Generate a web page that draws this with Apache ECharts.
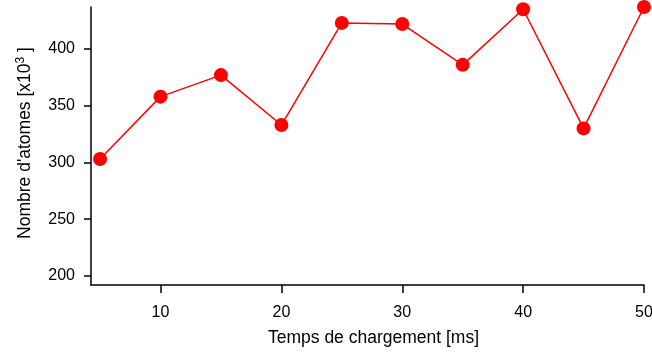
<!DOCTYPE html>
<html>
<head>
<meta charset="utf-8">
<script src="https://cdn.jsdelivr.net/npm/echarts@6/dist/echarts.min.js"></script>
<style>
  html, body { margin: 0; padding: 0; background: #fff; }
  #chart { width: 652px; height: 354px; }
</style>
</head>
<body>
<div id="chart"></div>
<script>
// temps de chargement (ms) et nombre d'atomes (x10^3)
const tempsMs = [5, 10, 15, 20, 25, 30, 35, 40, 45, 50];
const atomes = [303, 358, 377, 333, 423, 422, 386, 435, 330, 437];
const xTicks = [10, 20, 30, 40, 50];
const yTicks = [200, 250, 300, 350, 400];

const chart = echarts.init(document.getElementById('chart'), null, { renderer: 'canvas' });

const tickFont = { fontFamily: 'Liberation Sans', fontSize: 16, color: '#000' };
const titleFont = { fontFamily: 'Liberation Sans', fontSize: 17.5, color: '#000' };

chart.setOption({
  animation: false,
  grid: { left: 91, right: 8, top: 7, bottom: 69, outerBoundsMode: 'none' },
  xAxis: {
    type: 'value',
    min: 4.25,
    max: 50,
    name: 'Temps de chargement [ms]',
    nameLocation: 'middle',
    nameGap: 44,
    nameTextStyle: Object.assign({ padding: [0, 0, 0, 12] }, titleFont),
    axisLine: { lineStyle: { color: '#000', width: 1.5 } },
    axisTick: { show: true, inside: false, length: 8, lineStyle: { color: '#000', width: 1.5 }, customValues: xTicks },
    axisLabel: Object.assign({ margin: 20, customValues: xTicks }, tickFont),
    splitLine: { show: false }
  },
  yAxis: {
    type: 'value',
    min: 192,
    max: 437,
    name: "Nombre d'atomes [x10{sup|3} ]",
    nameLocation: 'middle',
    nameGap: 55,
    nameTextStyle: Object.assign({
      padding: [0, 0, 0, 6],
      rich: {
        sup: { fontFamily: 'Liberation Sans', fontSize: 12, color: '#000', verticalAlign: 'top', padding: [0, 0, 9, 0] }
      }
    }, titleFont),
    axisLine: { show: true, lineStyle: { color: '#000', width: 1.5 } },
    axisTick: { show: true, inside: false, length: 7, lineStyle: { color: '#000', width: 1.5 }, customValues: yTicks },
    axisLabel: Object.assign({ margin: 16, customValues: yTicks }, tickFont),
    splitLine: { show: false }
  },
  series: [{
    type: 'line',
    data: tempsMs.map((t, i) => [t, atomes[i]]),
    clip: false,
    symbol: 'circle',
    symbolSize: 14,
    itemStyle: { color: '#ff0000' },
    lineStyle: { color: '#ff0000', width: 1.5 }
  }]
});
</script>
</body>
</html>
